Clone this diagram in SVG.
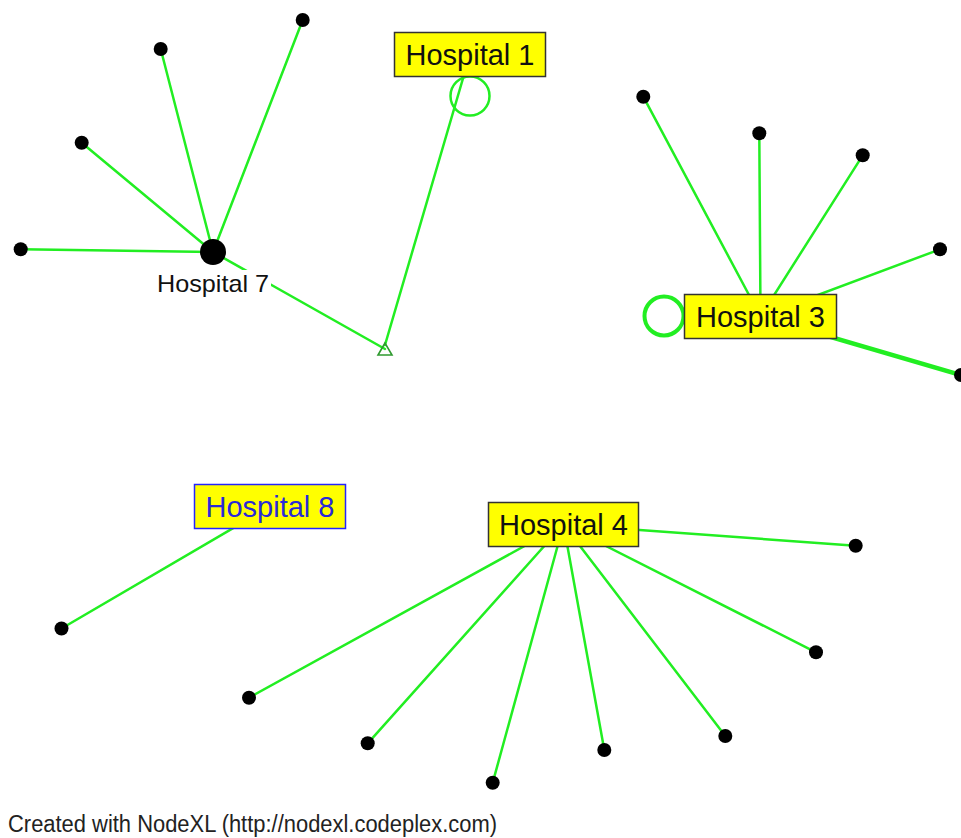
<svg xmlns="http://www.w3.org/2000/svg" width="961" height="838" viewBox="0 0 961 838">
  <style>
    .edge { stroke: #22ee22; stroke-width: 2.5; fill: none; stroke-linecap: round; }
    .thick { stroke-width: 4.5; }
    .loop { fill: none; stroke: #22ee22; stroke-width: 2.5; }
    .loop-heavy { stroke-width: 4; }
    .dot { fill: #000; }
    .box { fill: #ffff00; stroke: #333; stroke-width: 1.5; }
    .box-blue { stroke: #2424ff; }
    .boxlabel { font-family: "Liberation Sans", Arial, sans-serif; font-size: 29px; fill: #111; text-anchor: middle; }
    .boxlabel-blue { fill: #2a2ad8; }
    .label { font-family: "Liberation Sans", Arial, sans-serif; font-size: 24px; fill: #111; text-anchor: middle; }
    .footer { font-family: "Liberation Sans", Arial, sans-serif; font-size: 23px; fill: #222; }
  </style>

  <rect width="961" height="838" fill="#fff"/>

  <g id="connectors">
    <!-- Hospital 7 star -->
    <line class="edge" x1="213" y1="252" x2="302.7" y2="20"/>
    <line class="edge" x1="213" y1="252" x2="160.7" y2="49"/>
    <line class="edge" x1="213" y1="252" x2="81.7" y2="142.7"/>
    <line class="edge" x1="213" y1="252" x2="20.7" y2="249.3"/>
    <line class="edge" x1="213" y1="252" x2="385" y2="349"/>
    <!-- triangle to Hospital 1 -->
    <line class="edge" x1="385" y1="345" x2="470" y2="54.5"/>
    <!-- Hospital 3 star -->
    <line class="edge" x1="760.5" y1="316.5" x2="643.3" y2="96.7"/>
    <line class="edge" x1="760.5" y1="316.5" x2="759.3" y2="133.3"/>
    <line class="edge" x1="760.5" y1="316.5" x2="862.7" y2="155.3"/>
    <line class="edge" x1="760.5" y1="316.5" x2="940" y2="249.3"/>
    <line class="edge thick" x1="760.5" y1="316.5" x2="961" y2="375"/>
    <!-- Hospital 8 -->
    <line class="edge" x1="270" y1="506.5" x2="61.5" y2="628.5"/>
    <!-- Hospital 4 star -->
    <line class="edge" x1="563.5" y1="524.5" x2="855.7" y2="545.7"/>
    <line class="edge" x1="563.5" y1="524.5" x2="816" y2="652.3"/>
    <line class="edge" x1="563.5" y1="524.5" x2="725.3" y2="736"/>
    <line class="edge" x1="563.5" y1="524.5" x2="604.3" y2="750"/>
    <line class="edge" x1="563.5" y1="524.5" x2="492.7" y2="782.7"/>
    <line class="edge" x1="563.5" y1="524.5" x2="367.7" y2="743.3"/>
    <line class="edge" x1="563.5" y1="524.5" x2="249" y2="697.7"/>
    <!-- self loops -->
    <circle class="loop" cx="470" cy="96" r="19.5"/>
    <circle class="loop loop-heavy" cx="664" cy="316" r="19.5"/>
  </g>

  <g id="hospital-7">
    <circle class="dot" cx="213" cy="252" r="13"/>
    <rect x="155" y="270" width="116" height="29" fill="#fff"/>
    <text class="label" x="213" y="292" textLength="112" lengthAdjust="spacingAndGlyphs">Hospital 7</text>
  </g>

  <g id="hospital-1">
    <rect class="box" x="394.5" y="32.5" width="151" height="44"/>
    <text class="boxlabel" x="470" y="65">Hospital 1</text>
  </g>

  <g id="hospital-3">
    <rect class="box" x="684.5" y="294.5" width="152" height="44"/>
    <text class="boxlabel" x="760.5" y="327">Hospital 3</text>
  </g>

  <g id="hospital-8">
    <rect class="box box-blue" x="194.5" y="484.5" width="151" height="44"/>
    <text class="boxlabel boxlabel-blue" x="270" y="517">Hospital 8</text>
  </g>

  <g id="hospital-4">
    <rect class="box" x="488.5" y="502.5" width="150" height="44"/>
    <text class="boxlabel" x="563.5" y="535">Hospital 4</text>
  </g>

  <g id="junction">
    <polygon points="385,343 378,355 392,355" fill="none" stroke="#2f9a2f" stroke-width="1.6"/>
  </g>

  <g id="leaves">
    <circle class="dot" cx="302.7" cy="20" r="7"/>
    <circle class="dot" cx="160.7" cy="49" r="7"/>
    <circle class="dot" cx="81.7" cy="142.7" r="7"/>
    <circle class="dot" cx="20.7" cy="249.3" r="7"/>
    <circle class="dot" cx="643.3" cy="96.7" r="7"/>
    <circle class="dot" cx="759.3" cy="133.3" r="7"/>
    <circle class="dot" cx="862.7" cy="155.3" r="7"/>
    <circle class="dot" cx="940" cy="249.3" r="7"/>
    <circle class="dot" cx="961" cy="375" r="7"/>
    <circle class="dot" cx="61.5" cy="628.5" r="7"/>
    <circle class="dot" cx="855.7" cy="545.7" r="7"/>
    <circle class="dot" cx="816" cy="652.3" r="7"/>
    <circle class="dot" cx="725.3" cy="736" r="7"/>
    <circle class="dot" cx="604.3" cy="750" r="7"/>
    <circle class="dot" cx="492.7" cy="782.7" r="7"/>
    <circle class="dot" cx="367.7" cy="743.3" r="7"/>
    <circle class="dot" cx="249" cy="697.7" r="7"/>
  </g>

  <text class="footer" x="8" y="832" textLength="489" lengthAdjust="spacingAndGlyphs">Created with NodeXL (http://nodexl.codeplex.com)</text>
</svg>
